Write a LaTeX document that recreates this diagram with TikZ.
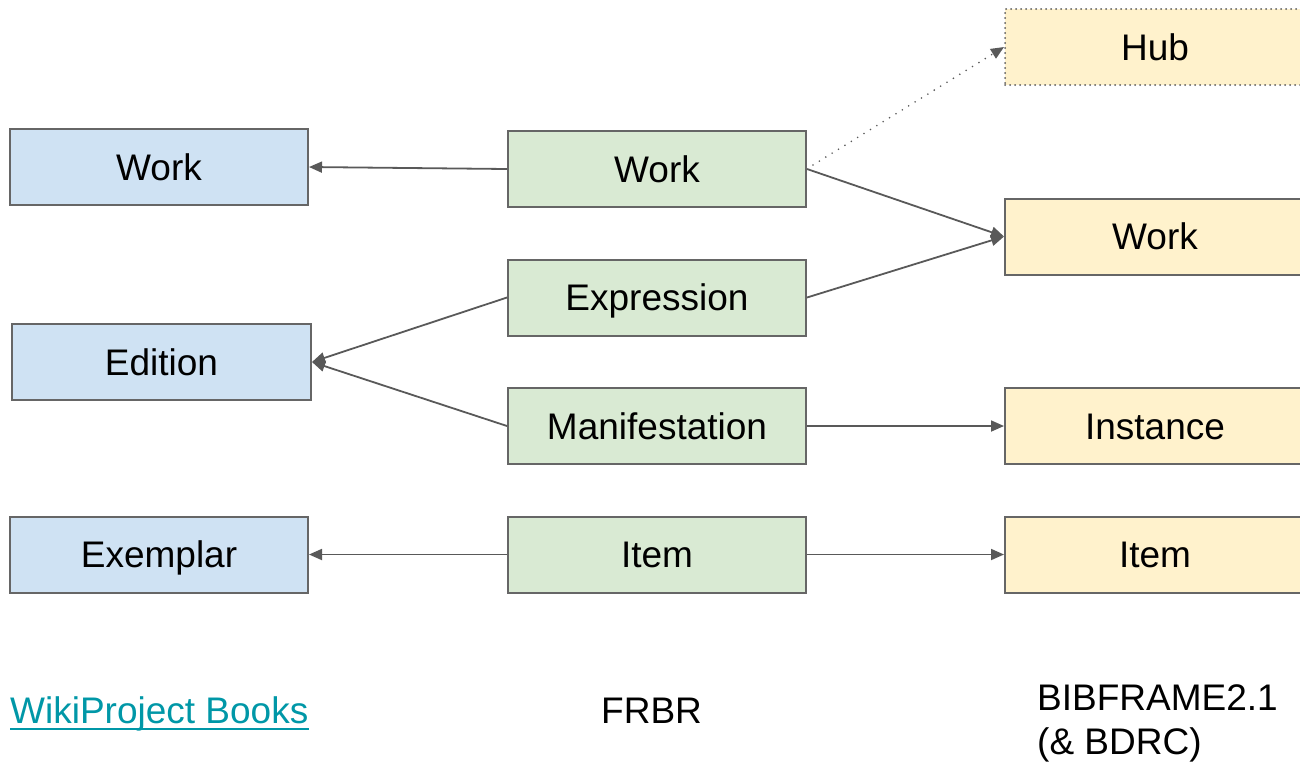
\documentclass[tikz,border=0pt]{standalone}
\usepackage{fontspec}
\setmainfont{Liberation Sans}
\usetikzlibrary{arrows.meta,calc}
\definecolor{bluefill}{HTML}{CFE2F3}
\definecolor{greenfill}{HTML}{D9EAD3}
\definecolor{yellowfill}{HTML}{FFF2CC}
\definecolor{boxline}{HTML}{666666}
\definecolor{arrowline}{HTML}{595959}
\definecolor{linkcol}{HTML}{0097A7}
\tikzset{
  box/.style={draw=boxline, line width=2pt, inner sep=0pt, minimum height=76pt,
    font=\fontsize{37}{44}\selectfont, text height=26.5pt, text depth=0pt},
  bluebox/.style={box, fill=bluefill, minimum width=298pt},
  greenbox/.style={box, fill=greenfill, minimum width=298pt},
  yellowbox/.style={box, fill=yellowfill, minimum width=300pt},
  hubbox/.style={yellowbox, draw=arrowline, line width=2pt, line cap=round, dash pattern=on 0pt off 5pt},
  conn/.style={draw=arrowline, line width=1.8pt, -{Triangle[length=13pt,width=11pt]}},
  dotconn/.style={conn, line width=1.8pt, line cap=round, dash pattern=on 0pt off 7.5pt},
  label/.style={inner sep=0pt, font=\fontsize{37}{44}\selectfont, anchor=base west},
}
\begin{document}
\begin{tikzpicture}[x=1pt,y=-1pt]
\useasboundingbox (0,0) rectangle (1300,764);
% left column
\node[bluebox] (bwork) at (159,167) {Work};
\node[bluebox, minimum width=299pt] (bedition) at (161.5,362) {Edition};
\node[bluebox] (bexemplar) at (159,554.5) {Exemplar};
% middle column
\node[greenbox] (gwork) at (657,169) {Work};
\node[greenbox] (gexpr) at (657,297.5) {Expression};
\node[greenbox] (gmanif) at (657,426) {Manifestation};
\node[greenbox] (gitem) at (657,554.5) {Item};
% right column
\node[hubbox] (yhub) at (1155,47) {Hub};
\node[yellowbox] (ywork) at (1155,236.5) {Work};
\node[yellowbox] (yinst) at (1155,426) {Instance};
\node[yellowbox] (yitem) at (1155,554.5) {Item};
% connectors
\draw[conn] (gwork.west) -- (bwork.east);
\draw[conn] (gwork.east) -- (ywork.west);
\draw[conn] (gexpr.east) -- (ywork.west);
\draw[conn] (gexpr.west) -- (bedition.east);
\draw[conn] (gmanif.west) -- (bedition.east);
\draw[conn] (gmanif.east) -- (yinst.west);
\draw[conn] (gitem.west) -- (bexemplar.east);
\draw[conn] (gitem.east) -- (yitem.west);
\draw[dotconn] ($(gwork.east)+(6,-4)$) -- (yhub.west);
% bottom labels
\node[label, text=linkcol] (wiki) at (10,723) {WikiProject Books};
\draw[linkcol, line width=2.6pt] ($(wiki.base west)+(0,6)$) -- ($(wiki.base east)+(0,6)$);
\node[label] (frbr) at (601,723) {FRBR};
\node[label] (bib1) at (1037,710) {BIBFRAME2.1};
\node[label] (bib2) at (1037,754) {(\& BDRC)};
\end{tikzpicture}
\end{document}
